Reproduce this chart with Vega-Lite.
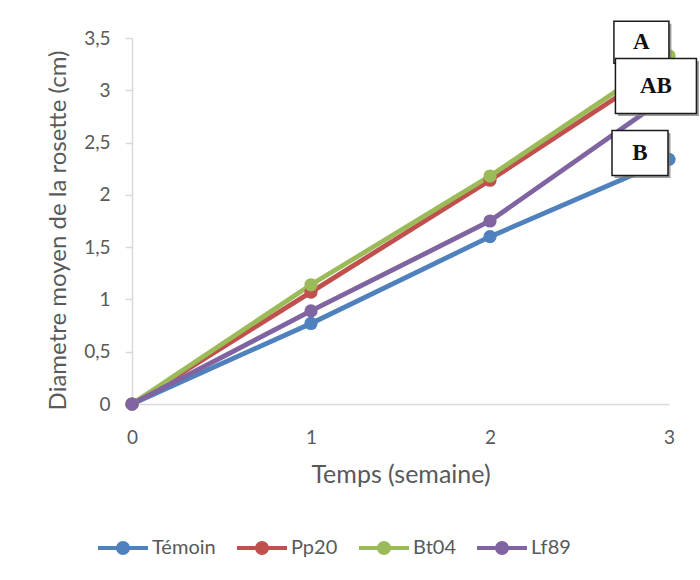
{
  "$schema": "https://vega.github.io/schema/vega-lite/v6.json",
  "width": 537,
  "height": 366,
  "autosize": {"type": "none"},
  "padding": {"left": 132, "top": 38, "right": 31, "bottom": 176},
  "background": "white",
  "config": {
    "view": {"stroke": null},
    "font": "Lato",
    "axis": {"labelColor": "#595959", "titleColor": "#595959", "titleFontWeight": "normal", "grid": false, "labelFlush": false}
  },
  "datasets": {
    "series": [
      {"traitement": "Témoin", "semaine": 0, "diametre": 0},
      {"traitement": "Témoin", "semaine": 1, "diametre": 0.77},
      {"traitement": "Témoin", "semaine": 2, "diametre": 1.6},
      {"traitement": "Témoin", "semaine": 3, "diametre": 2.34},
      {"traitement": "Pp20", "semaine": 0, "diametre": 0},
      {"traitement": "Pp20", "semaine": 1, "diametre": 1.07},
      {"traitement": "Pp20", "semaine": 2, "diametre": 2.14},
      {"traitement": "Pp20", "semaine": 3, "diametre": 3.26},
      {"traitement": "Bt04", "semaine": 0, "diametre": 0},
      {"traitement": "Bt04", "semaine": 1, "diametre": 1.14},
      {"traitement": "Bt04", "semaine": 2, "diametre": 2.18},
      {"traitement": "Bt04", "semaine": 3, "diametre": 3.33},
      {"traitement": "Lf89", "semaine": 0, "diametre": 0},
      {"traitement": "Lf89", "semaine": 1, "diametre": 0.89},
      {"traitement": "Lf89", "semaine": 2, "diametre": 1.75},
      {"traitement": "Lf89", "semaine": 3, "diametre": 2.95}
    ],
    "groupes": [
      {"groupe": "A", "semaine": 2.846, "diametre": 3.46},
      {"groupe": "AB", "semaine": 2.927, "diametre": 3.04},
      {"groupe": "B", "semaine": 2.838, "diametre": 2.4}
    ]
  },
  "layer": [
    {
      "data": {"name": "series"},
      "mark": {"type": "line", "strokeWidth": 4.8, "point": {"filled": true, "size": 175, "opacity": 1}},
      "encoding": {
        "x": {
          "field": "semaine", "type": "quantitative",
          "scale": {"domain": [0, 3], "nice": false, "zero": false},
          "axis": {
            "values": [0, 1, 2, 3], "format": "d", "ticks": false, "tickSize": 0,
            "domainColor": "#d9d9d9", "domainWidth": 1.5,
            "labelFontSize": 19, "labelPadding": 39, "labelBaseline": "alphabetic",
            "title": "Temps (semaine)", "titleFontSize": 25,
            "titleY": 78, "titleBaseline": "alphabetic"
          }
        },
        "y": {
          "field": "diametre", "type": "quantitative",
          "scale": {"domain": [0, 3.5], "nice": false},
          "axis": {
            "values": [0, 0.5, 1, 1.5, 2, 2.5, 3, 3.5],
            "labelExpr": "replace(format(datum.value, '~g'), '.', ',')",
            "domainColor": "#d9d9d9", "domainWidth": 1.5,
            "tickColor": "#d9d9d9", "tickWidth": 1.5, "tickSize": 7,
            "labelFontSize": 19, "labelPadding": 15,
            "title": "Diametre moyen de la rosette (cm)", "titleFontSize": 24,
            "titleX": -67, "titleY": 192, "titleBaseline": "alphabetic", "titleAngle": -90
          }
        },
        "color": {
          "field": "traitement", "type": "nominal",
          "scale": {"domain": ["Témoin", "Pp20", "Bt04", "Lf89"], "range": ["#4F81BD", "#C0504D", "#9BBB59", "#8064A2"]},
          "legend": {
            "title": null,
            "orient": "none",
            "direction": "horizontal",
            "legendX": -36,
            "legendY": 483,
            "padding": 0,
            "columnPadding": 13,
            "symbolType": "M-1,0H1M-0.2,0A0.2,0.2 0 1,0 0.2,0A0.2,0.2 0 1,0 -0.2,0Z",
            "symbolSize": 2500,
            "symbolStrokeWidth": 4,
            "symbolOpacity": 1,
            "labelFontSize": 20,
            "labelColor": "#595959",
            "labelOffset": 2,
            "encode": {
              "symbols": {"update": {"fill": {"scale": "color", "field": "value"}, "stroke": {"scale": "color", "field": "value"}}}
            }
          }
        }
      }
    },
    {
      "data": {"name": "groupes"},
      "mark": {"type": "point", "filled": true, "fill": "#7f7f7f", "opacity": 0.75, "strokeWidth": 0, "size": 3600, "xOffset": 2.5, "yOffset": 2.5, "clip": false},
      "encoding": {
        "x": {"field": "semaine", "type": "quantitative"},
        "y": {"field": "diametre", "type": "quantitative"},
        "shape": {
          "field": "groupe", "type": "nominal",
          "scale": {
            "domain": ["A", "AB", "B"],
            "range": [
              "M-0.917,-0.7H0.917V0.7H-0.917Z",
              "M-1.35,-0.917H1.35V0.917H-1.35Z",
              "M-0.933,-0.75H0.933V0.75H-0.933Z"
            ]
          },
          "legend": null
        }
      }
    },
    {
      "data": {"name": "groupes"},
      "mark": {"type": "point", "filled": true, "fill": "white", "stroke": "#1a1a1a", "strokeWidth": 1.5, "opacity": 1, "size": 3600, "clip": false},
      "encoding": {
        "x": {"field": "semaine", "type": "quantitative"},
        "y": {"field": "diametre", "type": "quantitative"},
        "shape": {"field": "groupe", "type": "nominal", "legend": null}
      }
    },
    {
      "data": {"name": "groupes"},
      "mark": {"type": "text", "font": "Liberation Serif", "fontWeight": "bold", "fontSize": 23, "color": "#111111", "baseline": "middle", "align": "center"},
      "encoding": {
        "x": {"field": "semaine", "type": "quantitative"},
        "y": {"field": "diametre", "type": "quantitative"},
        "text": {"field": "groupe"}
      }
    }
  ]
}
